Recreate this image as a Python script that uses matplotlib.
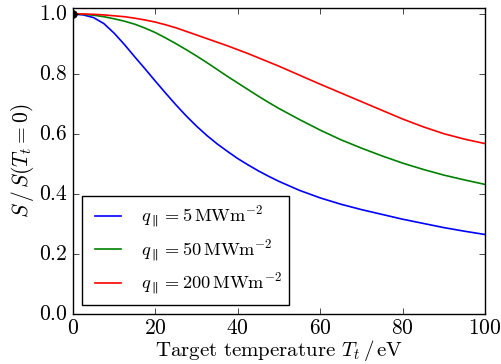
import matplotlib
matplotlib.use("Agg")
import matplotlib.pyplot as plt

plt.style.use("classic")
plt.rcParams.update({
    "font.family": "serif",
    "font.serif": ["cmr10", "DejaVu Serif"],
    "mathtext.fontset": "cm",
    "axes.formatter.use_mathtext": True,
    "font.size": 15.5,
    "figure.facecolor": "white",
    "savefig.facecolor": "white",
})

# Target temperature grid (eV)
T_t = [0, 2.5, 5, 7.5, 10, 12.5, 15, 17.5, 20, 22.5, 25, 27.5, 30, 32.5, 35,
       37.5, 40, 42.5, 45, 47.5, 50, 55, 60, 65, 70, 75, 80, 85, 90, 95, 100]

# Normalised S for each parallel heat flux
S_q5 = [1.000, 0.997, 0.988, 0.968, 0.936, 0.898, 0.857, 0.817, 0.776, 0.736,
        0.697, 0.660, 0.626, 0.595, 0.567, 0.542, 0.518, 0.497, 0.477, 0.459,
        0.442, 0.412, 0.387, 0.366, 0.348, 0.332, 0.316, 0.302, 0.288, 0.276,
        0.265]
S_q50 = [1.000, 0.999, 0.996, 0.991, 0.984, 0.976, 0.966, 0.953, 0.938, 0.920,
         0.901, 0.881, 0.860, 0.838, 0.815, 0.792, 0.770, 0.748, 0.726, 0.705,
         0.685, 0.648, 0.613, 0.581, 0.553, 0.527, 0.503, 0.482, 0.463, 0.447,
         0.432]
S_q200 = [1.000, 1.000, 0.999, 0.997, 0.994, 0.991, 0.986, 0.980, 0.973, 0.964,
          0.954, 0.942, 0.930, 0.918, 0.906, 0.894, 0.881, 0.868, 0.854, 0.840,
          0.826, 0.796, 0.766, 0.737, 0.708, 0.679, 0.650, 0.624, 0.601, 0.583,
          0.568]

labels = [r"$q_\parallel = 5\,\mathrm{MW m^{-2}}$",
          r"$q_\parallel = 50\,\mathrm{MW m^{-2}}$",
          r"$q_\parallel = 200\,\mathrm{MW m^{-2}}$"]

ref_T, ref_S = 0.0, 1.0

fig = plt.figure(figsize=(5.01, 3.64), dpi=100)
ax = fig.add_axes([0.1457, 0.1374, 0.8223, 0.8406])

ax.plot(T_t, S_q5, color="b", lw=1.2, label=labels[0])
ax.plot(T_t, S_q50, color="g", lw=1.2, label=labels[1])
ax.plot(T_t, S_q200, color="r", lw=1.2, label=labels[2])
ax.plot([ref_T], [ref_S], "ko", markersize=5.5, clip_on=True)

ax.set_xlim(0, 100)
ax.set_ylim(0, 1.02)
ax.set_xticks([0, 20, 40, 60, 80, 100])
ax.set_yticks([0.0, 0.2, 0.4, 0.6, 0.8, 1.0])
ax.tick_params(axis="y", labelsize=15.5, pad=4)
ax.tick_params(axis="x", labelsize=15.5, pad=3)

ax.set_xlabel(r"Target temperature $T_t\,/\,\mathrm{eV}$", fontsize=15, labelpad=0)
ax.set_ylabel(r"$S\,/\,S(T_t = 0)$", fontsize=15.5, labelpad=2)

leg = ax.legend(loc="lower left", fontsize=13.2, frameon=True, fancybox=False,
                labelspacing=0.38)
leg.get_frame().set_edgecolor("black")

fig.savefig("out.png", dpi=100)
